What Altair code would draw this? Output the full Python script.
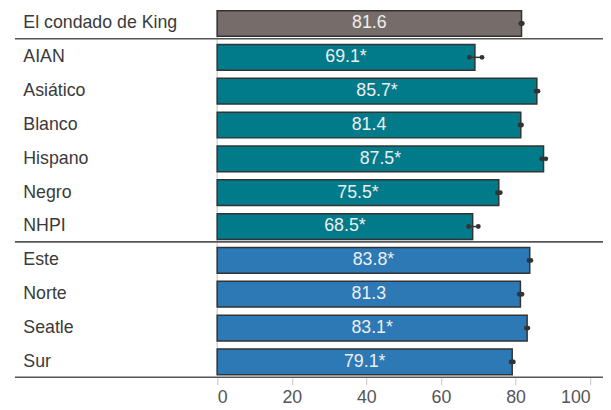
import altair as alt
import pandas as pd

categories = ["El condado de King", "AIAN", "Asiático", "Blanco", "Hispano", "Negro", "NHPI",
              "Este", "Norte", "Seatle", "Sur"]
groups = ["total", "raza", "raza", "raza", "raza", "raza", "raza",
          "region", "region", "region", "region"]
values = [81.6, 69.1, 85.7, 81.4, 87.5, 75.5, 68.5, 83.8, 81.3, 83.1, 79.1]
ci_low = [81.4, 67.6, 85.5, 81.2, 87.0, 75.1, 67.4, 83.6, 81.0, 82.9, 78.8]
ci_high = [81.8, 71.0, 86.0, 81.6, 88.1, 75.9, 70.0, 84.1, 81.7, 83.3, 79.4]
significant = [False, True, True, False, True, True, True, True, False, True, True]
separators_after = ["El condado de King", "NHPI", "Sur"]
x_ticks = [0, 20, 40, 60, 80, 100]

df = pd.DataFrame({
    "cat": categories,
    "group": groups,
    "value": values,
    "lo": ci_low,
    "hi": ci_high,
    "label": [f"{v:.1f}" + ("*" if s else "") for v, s in zip(values, significant)],
})
df["mid"] = df["value"] / 2

ydef = alt.Y("cat:N", sort=categories,
             scale=alt.Scale(paddingInner=0.24, paddingOuter=0),
             axis=alt.Axis(title=None, labelAlign="left", labelPadding=197, ticks=False,
                           tickSize=0, domain=False, labelFontSize=18,
                           labelFont="Liberation Sans", labelColor="#3a3a3a",
                           labelBaseline="middle"))
xscale = alt.Scale(domain=[0, 100], nice=False)

base = alt.Chart(df)

zero = alt.Chart(pd.DataFrame({"z": [0]})).mark_rule(color="#d4d4d4", strokeWidth=1.5).encode(
    x=alt.X("z:Q", scale=xscale)
)

bars = base.mark_bar(stroke="#333333", strokeWidth=1.5).encode(
    y=ydef,
    x=alt.X("value:Q", scale=xscale,
            axis=alt.Axis(title=None, values=x_ticks, domain=False, grid=False,
                          tickColor="#cfcfcf", tickSize=7, tickWidth=1.2, offset=3,
                          labelFontSize=18, labelFont="Liberation Sans",
                          labelColor="#555555", labelPadding=4, labelFlush=True)),
    color=alt.Color("group:N", scale=alt.Scale(domain=["total", "raza", "region"],
                                               range=["#766d6b", "#017a8a", "#2c79b5"]),
                    legend=None),
)

texts = base.mark_text(fontSize=18, font="Liberation Sans", color="#eeeeee",
                       baseline="middle", align="center").encode(
    y=alt.Y("cat:N", sort=categories),
    x=alt.X("mid:Q", scale=xscale),
    text="label:N",
)

err = base.mark_rule(color="#333333", strokeWidth=1.5).encode(
    y=alt.Y("cat:N", sort=categories),
    x=alt.X("lo:Q", scale=xscale),
    x2="hi:Q",
)
dots_lo = base.mark_circle(color="#333333", opacity=1, size=24).encode(
    y=alt.Y("cat:N", sort=categories),
    x=alt.X("lo:Q", scale=xscale),
)
dots_hi = base.mark_circle(color="#333333", opacity=1, size=24).encode(
    y=alt.Y("cat:N", sort=categories),
    x=alt.X("hi:Q", scale=xscale),
)

sep = alt.Chart(pd.DataFrame({"cat": separators_after})).mark_rule(
    color="#555555", strokeWidth=1.6, yOffset=2.5
).encode(
    y=alt.Y("cat:N", sort=categories, bandPosition=1),
    x=alt.value(-205),
    x2=alt.value(395),
)

chart = alt.layer(zero, bars, texts, err, dots_lo, dots_hi, sep).properties(
    width=378, height=369,
    autosize=alt.AutoSizeParams(type="none"),
    padding={"left": 212, "top": 0, "right": 13, "bottom": 30},
).configure_view(stroke=None)

chart.save("out.html", embed_options={"renderer": "svg", "actions": False})
